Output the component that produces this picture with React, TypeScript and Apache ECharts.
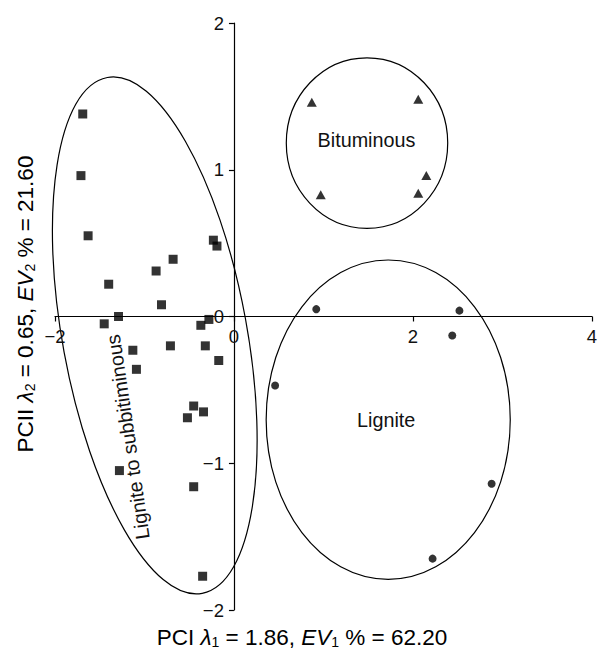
import React, { useEffect, useRef } from 'react';
import * as echarts from 'echarts';

// Scores on PCI (x) and PCII (y)
const subbituminousPoints: number[][] = [
  [-1.69, 1.38], [-1.71, 0.96], [-1.63, 0.55], [-1.40, 0.22], [-0.87, 0.31],
  [-0.68, 0.39], [-0.81, 0.08], [-0.23, 0.52], [-0.19, 0.48], [-1.29, 0.0],
  [-1.45, -0.05], [-0.37, -0.06], [-0.28, -0.02], [-1.13, -0.23], [-1.09, -0.36],
  [-0.71, -0.20], [-0.32, -0.20], [-0.17, -0.30], [-0.45, -0.61], [-0.52, -0.69],
  [-0.34, -0.65], [-1.28, -1.05], [-0.45, -1.16], [-0.35, -1.77],
];
const bituminousPoints: number[][] = [
  [0.87, 1.46], [2.06, 1.48], [2.15, 0.96], [0.97, 0.83], [2.06, 0.84],
];
const lignitePoints: number[][] = [
  [0.92, 0.05], [2.52, 0.04], [2.44, -0.13], [2.88, -1.14], [2.22, -1.65], [0.46, -0.47],
];

const xTicks = [-2, 0, 2, 4];
const yTicks = [-2, -1, 0, 1, 2];

// Cluster outlines (data units) and their labels
const clusterNames = ['Lignite to subbitiminous', 'Bituminous', 'Lignite'];
const clusterCenters: number[][] = [[-0.885, -0.129], [1.487, 1.182], [1.724, -0.703]];
const clusterRadii: number[][] = [[1.03, 1.786], [0.902, 0.581], [1.364, 1.088]];
const clusterTilt = [10.4, 0, 0];
const clusterLabelPos: number[][] = [[-1.186, -0.821], [1.481, 1.202], [1.701, -0.705]];
const clusterLabelRotate = [98.4, 0, 0];

const FONT = '"Liberation Sans", Arial, sans-serif';
const GRID = { left: 55, right: 7, top: 23, bottom: 42 };
const W = 600;
const H = 652;

export default function App() {
  const ref = useRef<HTMLDivElement>(null);
  useEffect(() => {
    document.body.style.margin = '0';
    const chart = echarts.init(ref.current!, null, { renderer: 'svg' });
    const fmt = (v: number) => (v < 0 ? '\u2212' + Math.abs(v) : String(v));
    const axisCommon = {
      type: 'value',
      splitLine: { show: false },
      axisLine: { onZero: false, lineStyle: { color: '#000', width: 1.2 } },
      axisTick: { show: true, length: 5, lineStyle: { color: '#000', width: 1.2 } },
      axisLabel: { color: '#111', fontSize: 18.5, fontFamily: FONT, margin: 10, formatter: fmt },
    };
    chart.setOption({
      animation: false,
      backgroundColor: '#fff',
      grid: { ...GRID, containLabel: false },
      xAxis: { ...axisCommon, min: xTicks[0], max: xTicks[xTicks.length - 1], interval: 2 },
      yAxis: { ...axisCommon, min: yTicks[0], max: yTicks[yTicks.length - 1], interval: 1 },
      series: [
        { type: 'scatter', name: 'Lignite to subbituminous', data: subbituminousPoints, symbol: 'rect', symbolSize: 9, itemStyle: { color: '#000' } },
        { type: 'scatter', name: 'Bituminous', data: bituminousPoints, symbol: 'triangle', symbolSize: [10, 9], itemStyle: { color: '#000' } },
        { type: 'scatter', name: 'Lignite', data: lignitePoints, symbol: 'circle', symbolSize: 8, itemStyle: { color: '#000' } },
      ],
    });

    const px = (p: number[]) => chart.convertToPixel({ gridIndex: 0 }, p) as number[];
    // Move both axes (line, ticks, labels) onto the zero lines
    const zero = px([0, 0]);
    const xOffset = -((H - GRID.bottom) - zero[1]);
    const yOffset = -(zero[0] - GRID.left);

    const graphics: any[] = [];
    clusterNames.forEach((name, i) => {
      const c = clusterCenters[i];
      const r = clusterRadii[i];
      const cp = px(c);
      const rx = px([c[0] + r[0], c[1]])[0] - cp[0];
      const ry = cp[1] - px([c[0], c[1] + r[1]])[1];
      graphics.push({
        type: 'ellipse',
        x: cp[0], y: cp[1],
        rotation: (clusterTilt[i] * Math.PI) / 180,
        shape: { cx: 0, cy: 0, rx, ry },
        style: { fill: 'none', stroke: '#000', lineWidth: 1.2 },
        silent: true,
      });
      const lp = px(clusterLabelPos[i]);
      graphics.push({
        type: 'text',
        x: lp[0], y: lp[1],
        rotation: (clusterLabelRotate[i] * Math.PI) / 180,
        style: {
          text: name, fill: '#111', font: `19.8px ${FONT}`,
          align: 'center', verticalAlign: 'middle', textAlign: 'center', textVerticalAlign: 'middle',
        },
        silent: true,
      });
    });

    const rich = {
      n: { fontSize: 22.5, fontFamily: FONT, color: '#111', lineHeight: 24, verticalAlign: 'middle' },
      i: { fontSize: 22.5, fontFamily: FONT, fontStyle: 'italic', color: '#111', lineHeight: 24, verticalAlign: 'middle' },
      s: { fontSize: 14, fontFamily: FONT, color: '#111', lineHeight: 14, verticalAlign: 'bottom' },
    };
    graphics.push({
      type: 'text', x: 302, y: 637,
      style: {
        text: '{n|PCI }{i|\u03bb}{s|1}{n| = 1.86, }{i|EV}{s|1}{n| % = 62.20}',
        rich, align: 'center', verticalAlign: 'middle', textAlign: 'center', textVerticalAlign: 'middle',
      },
      silent: true,
    });
    graphics.push({
      type: 'text', x: 25, y: 304, rotation: Math.PI / 2,
      style: {
        text: '{n|PCII }{i|\u03bb}{s|2}{n| = 0.65, }{i|EV}{s|2}{n| % = 21.60}',
        rich, align: 'center', verticalAlign: 'middle', textAlign: 'center', textVerticalAlign: 'middle',
      },
      silent: true,
    });
    chart.setOption({
      xAxis: { offset: xOffset },
      yAxis: { offset: yOffset },
      graphic: graphics,
    });
    return () => chart.dispose();
  }, []);
  return <div ref={ref} style={{ width: W, height: H }} />;
}
